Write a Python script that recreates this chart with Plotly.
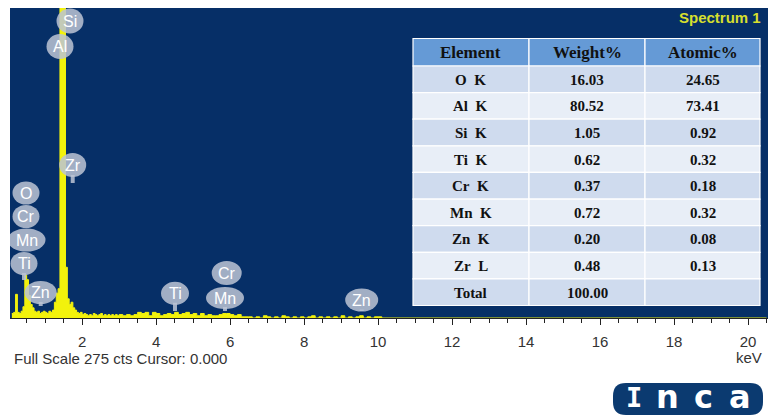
import plotly.graph_objects as go

# ---- spectrum counts (keV, counts) ----
energy_fine = [0.10, 0.15, 0.20, 0.25, 0.30, 0.35, 0.40, 0.45, 0.50, 0.55,
               0.60, 0.65, 0.70, 0.75, 0.80, 0.85, 0.90, 0.95, 1.00, 1.05,
               1.10, 1.15, 1.20, 1.25, 1.30, 1.35, 1.40, 1.45, 1.50, 1.55,
               1.60, 1.65, 1.70, 1.75, 1.80, 1.85, 1.90, 1.95, 2.00, 2.05,
               2.10, 2.15, 2.20, 2.25, 2.30, 2.35, 2.40, 2.45, 2.50, 2.55,
               2.60, 2.65, 2.70, 2.75, 2.80, 2.85, 2.90, 2.95, 3.00]
counts_fine = [4, 5, 21, 5, 4, 6, 10, 38, 34, 20,
               12, 9, 6, 5, 6, 4, 5, 6, 5, 4,
               6, 5, 7, 14, 22, 26, 310, 320, 305, 45,
               17, 12, 14, 9, 7, 5, 4, 5, 3, 4,
               3, 2, 3, 2, 4, 3, 2, 3, 4, 2,
               3, 2, 3, 2, 3, 2, 3, 2, 3]

energy_coarse = [3.1, 3.2, 3.3, 3.4, 3.5, 3.6, 3.7, 3.8, 3.9, 4.0,
                 4.1, 4.2, 4.3, 4.4, 4.5, 4.6, 4.7, 4.8, 4.9, 5.0,
                 5.1, 5.2, 5.3, 5.4, 5.5, 5.6, 5.7, 5.8, 5.9, 6.0,
                 6.1, 6.2, 6.3, 6.4, 6.5, 6.6, 6.7, 6.8, 6.9, 7.0,
                 7.1, 7.2, 7.3, 7.4, 7.5, 7.6, 7.7, 7.8, 7.9, 8.0,
                 8.1, 8.2, 8.3, 8.4, 8.5, 8.6, 8.7, 8.8, 8.9, 9.0,
                 9.1, 9.2, 9.3, 9.4, 9.5, 9.6, 9.7, 9.8, 9.9, 10.0,
                 10.1, 20.5]
counts_coarse = [2, 3, 2, 3, 5, 4, 5, 2, 5, 4,
                 2, 3, 4, 3, 5, 3, 4, 5, 3, 4,
                 2, 4, 2, 3, 2, 2, 3, 4, 4, 3,
                 2, 3, 1, 1, 1, 0, 1, 0, 2, 1,
                 0, 1, 0, 2, 1, 0, 1, 0, 1, 0,
                 1, 2, 0, 1, 0, 1, 0, 1, 0, 2,
                 0, 1, 0, 1, 2, 0, 1, 0, 1, 1,
                 0, 0]

full_scale = 275

# ---- quantification table ----
elements = ["O K", "Al K", "Si K", "Ti K", "Cr K", "Mn K", "Zn K", "Zr L", "Total"]
weight_pct = ["16.03", "80.52", "1.05", "0.62", "0.37", "0.72", "0.20", "0.48", "100.00"]
atomic_pct = ["24.65", "73.41", "0.92", "0.32", "0.18", "0.32", "0.08", "0.13", ""]
table_headers = ["Element", "Weight%", "Atomic%"]

# ---- peak labels ----
peak_labels = ["Si", "Al", "Zr", "O", "Cr", "Mn", "Ti", "Zn", "Ti", "Cr", "Mn", "Zn"]

W, H = 772, 416
NAVY = "#062f67"
YELLOW = "#f2f20c"
FONT = "Arial, Liberation Sans, sans-serif"
SERIF = "Liberation Serif, Times New Roman, serif"


def fx(px):
    return px / W


def fy(py):
    return 1 - py / H


# plot area in pixels
PL, PR, PT, PB = 10, 768, 8, 318
X_RANGE = [0.05, 20.54]


def e_at(px):
    return X_RANGE[0] + (px - PL) * (X_RANGE[1] - X_RANGE[0]) / (PR - PL)


def c_at(py):
    return (PB - py) * full_scale / (PB - PT)


fig = go.Figure()

fig.add_trace(go.Scatter(
    x=energy_fine + energy_coarse,
    y=counts_fine + counts_coarse,
    mode="lines",
    line=dict(color=YELLOW, width=1, shape="hv"),
    fill="tozeroy",
    fillcolor=YELLOW,
    hoverinfo="skip",
    showlegend=False,
))

# balloon placement: (centre px x, centre px y, width, height, stem bottom px y or None)
balloon_layout = [
    (70, 21, 27, 25, None),
    (60, 46.5, 27, 25, None),
    (72.7, 165, 27, 24, 183),
    (26, 193, 27, 23, None),
    (26, 216.5, 27, 23, None),
    (26.5, 240, 38, 23, None),
    (24, 263.5, 27, 23, 280),
    (40.7, 292.5, 32, 23, 306),
    (175, 293.3, 28, 23, 311),
    (226.7, 273, 30, 24, None),
    (225, 298, 38, 22, 311),
    (361.7, 300, 33, 23, 311),
]

BALLOON = "rgba(188,196,212,0.86)"
shapes = []
annotations = []
for name, (bx, by, bw, bh, stem) in zip(peak_labels, balloon_layout):
    ex, cy = e_at(bx), c_at(by)
    if stem is not None:
        shapes.append(dict(
            type="line", xref="x", yref="y", layer="above",
            x0=ex, x1=ex, y0=c_at(by + bh / 2 - 2), y1=c_at(stem),
            line=dict(color=BALLOON, width=4),
        ))
    shapes.append(dict(
        type="circle", xref="x", yref="y", layer="above",
        xsizemode="pixel", ysizemode="pixel",
        xanchor=ex, yanchor=cy,
        x0=-bw / 2, x1=bw / 2, y0=-bh / 2, y1=bh / 2,
        fillcolor=BALLOON, line=dict(width=0),
    ))
    annotations.append(dict(
        x=ex, y=cy, xref="x", yref="y", text=name, showarrow=False,
        font=dict(family=FONT, size=16, color="white"),
        xanchor="center", yanchor="middle",
    ))

# quantification table drawn cell by cell
col_edges = [413, 529, 645, 760]
header_top, header_bottom, table_bottom = 38.5, 66, 305.5
n = len(elements)
row_h = (table_bottom - header_bottom) / n
dark, light = "#cfdbee", "#e8eef7"


def cell(x0, x1, y0, y1, fill, text, size):
    shapes.append(dict(type="rect", xref="paper", yref="paper", layer="above",
                       x0=fx(x0), x1=fx(x1), y0=fy(y1), y1=fy(y0),
                       fillcolor=fill, line=dict(color="white", width=1.2)))
    if text:
        annotations.append(dict(
            x=fx((x0 + x1) / 2), y=fy((y0 + y1) / 2 + 0.5), xref="paper", yref="paper",
            text="<b>%s</b>" % text, showarrow=False,
            xanchor="center", yanchor="middle",
            font=dict(family=SERIF, size=size, color="#111"),
        ))


for j, h in enumerate(table_headers):
    cell(col_edges[j], col_edges[j + 1], header_top, header_bottom, "#659ad6", h, 17)

sp = "\u00a0\u00a0"
for i in range(n):
    y0 = header_bottom + i * row_h
    fill = dark if i % 2 == 0 else light
    row = [elements[i].replace(" ", sp), weight_pct[i], atomic_pct[i]]
    for j, txt in enumerate(row):
        cell(col_edges[j], col_edges[j + 1], y0, y0 + row_h, fill, txt, 15)

# INCA logo badge
lx0, lx1, ly0, ly1, r = 613, 763, 383, 415, 13
logo_path = (
    f"M {fx(lx0 + r)},{fy(ly0)} L {fx(lx1 - r)},{fy(ly0)} "
    f"Q {fx(lx1)},{fy(ly0)} {fx(lx1)},{fy(ly0 + r)} L {fx(lx1)},{fy(ly1 - r)} "
    f"Q {fx(lx1)},{fy(ly1)} {fx(lx1 - r)},{fy(ly1)} L {fx(lx0 + r)},{fy(ly1)} "
    f"Q {fx(lx0)},{fy(ly1)} {fx(lx0)},{fy(ly1 - r)} L {fx(lx0)},{fy(ly0 + r)} "
    f"Q {fx(lx0)},{fy(ly0)} {fx(lx0 + r)},{fy(ly0)} Z"
)
shapes.append(dict(type="path", xref="paper", yref="paper", path=logo_path,
                   fillcolor="#0b3a70", line=dict(width=0)))
for ch, cx, fam, size in [("I", 634, "DejaVu Sans Mono", 27),
                          ("n", 667, "DejaVu Sans", 32),
                          ("c", 703, "DejaVu Sans", 32),
                          ("a", 740, "DejaVu Sans", 32)]:
    annotations.append(dict(
        x=fx(cx), y=fy(397), xref="paper", yref="paper", text="<b>%s</b>" % ch,
        showarrow=False, xanchor="center", yanchor="middle",
        font=dict(family=fam, size=size, color="white"),
    ))

annotations += [
    dict(x=fx(763), y=fy(18), xref="paper", yref="paper", text="<b>Spectrum 1</b>",
         showarrow=False, xanchor="right", yanchor="middle",
         font=dict(family=FONT, size=15, color="#d6df2e")),
    dict(x=fx(12), y=fy(358), xref="paper", yref="paper",
         text="Full Scale %d cts Cursor: 0.000" % full_scale,
         showarrow=False, xanchor="left", yanchor="middle",
         font=dict(family=FONT, size=15, color="#333")),
    dict(x=fx(764), y=fy(357), xref="paper", yref="paper", text="keV",
         showarrow=False, xanchor="right", yanchor="middle",
         font=dict(family=FONT, size=15, color="#333")),
]

fig.update_layout(
    width=W, height=H,
    margin=dict(l=0, r=0, t=0, b=0),
    paper_bgcolor="white",
    plot_bgcolor=NAVY,
    showlegend=False,
    shapes=shapes,
    annotations=annotations,
    xaxis=dict(
        domain=[fx(PL), fx(PR)],
        range=X_RANGE,
        tickvals=[2, 4, 6, 8, 10, 12, 14, 16, 18, 20],
        ticks="outside", ticklen=6, tickwidth=1, tickcolor="#222",
        ticklabelstandoff=4,
        minor=dict(dtick=0.5, tick0=0, ticks="outside", ticklen=4, tickcolor="#222"),
        showline=True, linecolor="#222", linewidth=1,
        showgrid=False, zeroline=False, automargin=False,
        tickfont=dict(family=FONT, size=15, color="#333"),
        fixedrange=True,
    ),
    yaxis=dict(
        domain=[fy(PB), fy(PT)],
        range=[0, full_scale],
        visible=False, showgrid=False, zeroline=False, automargin=False,
        fixedrange=True,
    ),
)

fig.write_html("out.html")
